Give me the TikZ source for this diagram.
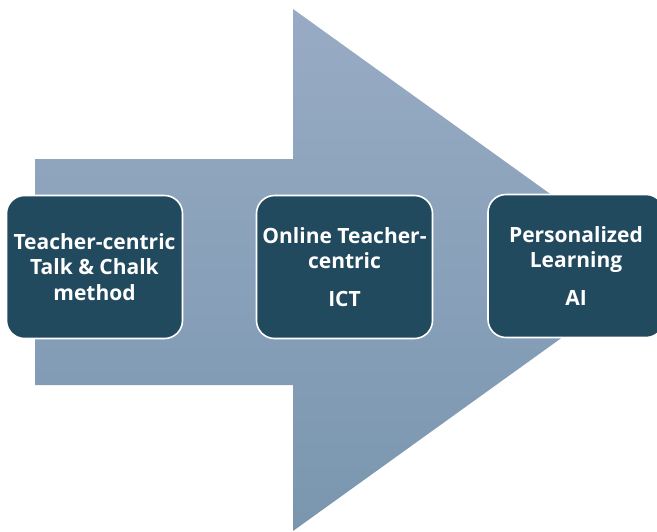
\documentclass[tikz,border=0pt]{standalone}
\usepackage{fontspec}
\setmainfont{Open Sans}
\usepackage{tikz}
\usetikzlibrary{positioning}

\definecolor{arrowtop}{RGB}{152,171,196}
\definecolor{arrowbottom}{RGB}{122,150,175}
\definecolor{boxfill}{RGB}{34,74,95}

\tikzset{
    stagebox/.style={draw=white, line width=1.6pt, fill=boxfill, rounded corners=18pt,
        minimum width=176pt, minimum height=143pt, text=white, align=center,
        font=\fontsize{21}{25.5}\selectfont\bfseries, inner sep=1pt}
}

\begin{document}
\begin{tikzpicture}[x=1pt, y=-1pt]
    \useasboundingbox (0,0) rectangle (657,531);

    % Draw the big arrow
    \shade[top color=arrowtop, bottom color=arrowbottom]
        (35,159) -- (293,159) -- (293,9) -- (656,270) -- (293,531)
        -- (293,385) -- (35,385) -- cycle;

    % Draw the three stages
    \node[stagebox] (talkchalk) at (94.5,267) {Teacher-centric\\Talk \& Chalk\\method};
    \node[stagebox] (online) at (344.5,267) {Online Teacher-\\centric\\[12pt]ICT};
    \node[stagebox] (personal) at (576,266) {Personalized\\Learning\\[12pt]AI};
\end{tikzpicture}
\end{document}
